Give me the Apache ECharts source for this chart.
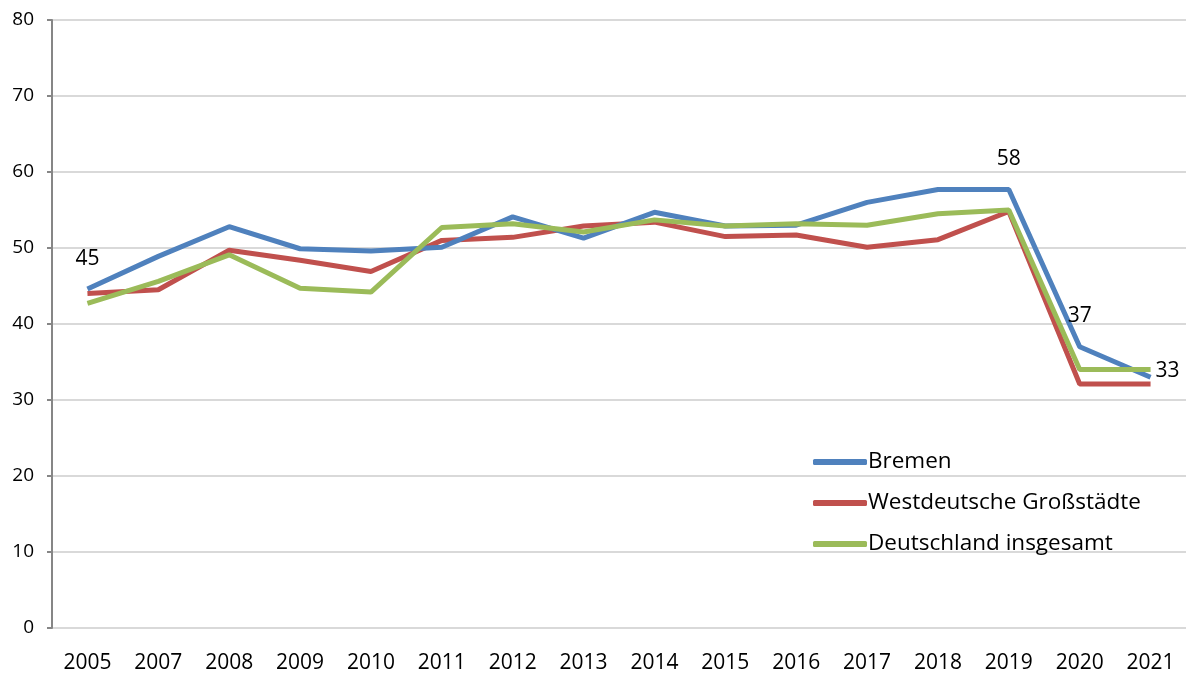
<!DOCTYPE html>
<html>

<head>
    <meta charset="utf-8">
    <title>Bremen</title>
    <script src="https://cdn.jsdelivr.net/npm/echarts@6/dist/echarts.min.js"></script>
    <style>
        body { margin: 0; background: #fff; }
    </style>
</head>

<body>
<div id="main" style="width: 1186px;height:675px;"></div>
<script>
    var years = ['2005', '2007', '2008', '2009', '2010', '2011', '2012', '2013', '2014', '2015', '2016', '2017', '2018', '2019', '2020', '2021'];
    var bremen = [44.6, 48.9, 52.8, 49.9, 49.6, 50.1, 54.1, 51.3, 54.7, 52.9, 53.0, 56.0, 57.7, 57.7, 37.0, 33.0];
    var westdeutsch = [44.0, 44.5, 49.7, 48.4, 46.9, 51.0, 51.4, 52.9, 53.4, 51.5, 51.7, 50.1, 51.1, 54.8, 32.1, 32.1];
    var deutschland = [42.7, 45.6, 49.1, 44.7, 44.2, 52.7, 53.2, 52.1, 53.7, 52.9, 53.2, 53.0, 54.5, 55.0, 34.0, 34.0];
    // beschriftete Punkte (Bremen)
    var labelPos = { 0: 'top', 13: 'top', 14: 'top', 15: 'right' };

    var font = '"Open Sans", "Noto Sans", sans-serif';

    var bremenData = bremen.map(function (v, i) {
        var p = { value: v };
        if (labelPos[i]) {
            p.label = {
                show: true,
                position: labelPos[i],
                distance: labelPos[i] === 'right' ? 5 : 20,
                offset: labelPos[i] === 'right' ? [0, -6] : [0, 0],
                fontSize: 21,
                color: '#000',
                fontFamily: font
            };
        }
        return p;
    });

    var myChart = echarts.init(document.getElementById('main'));
    var option = {
        animation: false,
        grid: { left: 52, top: 20, width: 1144, height: 608 },
        legend: {
            orient: 'vertical',
            left: 808,
            top: 445,
            itemWidth: 54,
            itemHeight: 6,
            itemGap: 17,
            icon: 'roundRect',
            textStyle: { fontSize: 22.5, lineHeight: 24, color: '#000', fontFamily: font, padding: [0, 0, 0, -4] },
            data: ['Bremen', 'Westdeutsche Großstädte', 'Deutschland insgesamt']
        },
        xAxis: {
            type: 'category',
            data: years,
            boundaryGap: true,
            axisLine: { show: false },
            axisTick: { show: false },
            axisLabel: { fontSize: 21, color: '#000', fontFamily: font, margin: 25 }
        },
        yAxis: {
            type: 'value',
            min: 0,
            max: 80,
            interval: 10,
            axisLine: { show: true, lineStyle: { color: '#868686', width: 2 } },
            axisTick: { show: true, length: 5, lineStyle: { color: '#868686', width: 2 } },
            axisLabel: { fontSize: 19, color: '#000', fontFamily: font, margin: 18 },
            splitLine: { lineStyle: { color: '#D9D9D9', width: 2 } }
        },
        series: [
            {
                name: 'Bremen',
                type: 'line',
                data: bremenData,
                symbol: 'circle',
                symbolSize: 0,
                color: '#4F81BD',
                lineStyle: { width: 5 },
                label: {
                    show: false,
                    formatter: function (d) { return Math.round(d.value); }
                },
                z: 3
            },
            {
                name: 'Westdeutsche Großstädte',
                type: 'line',
                data: westdeutsch,
                symbol: 'none',
                color: '#C0504D',
                lineStyle: { width: 5 },
                z: 2
            },
            {
                name: 'Deutschland insgesamt',
                type: 'line',
                data: deutschland,
                symbol: 'none',
                color: '#9BBB59',
                lineStyle: { width: 5 },
                z: 4
            }
        ]
    };
    myChart.setOption(option);
</script>
</body>

</html>
